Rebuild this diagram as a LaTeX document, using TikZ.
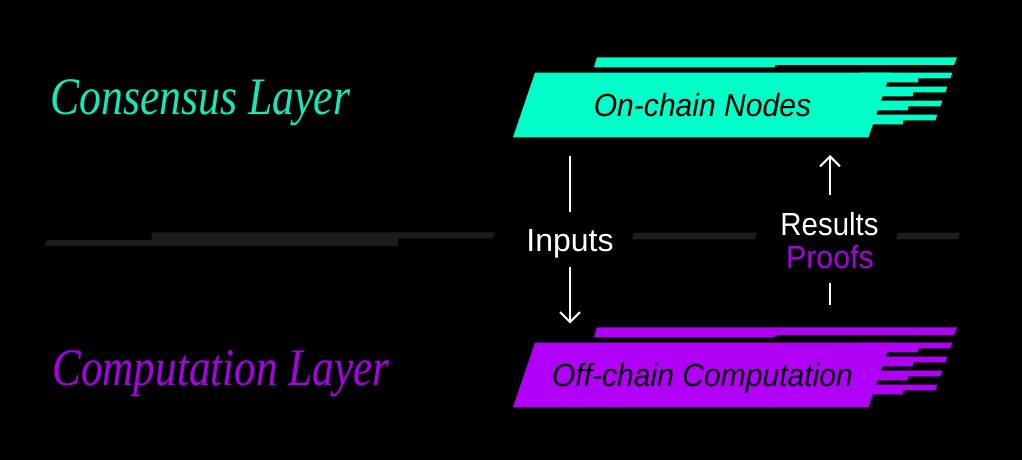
\documentclass[tikz,border=0pt]{standalone}
\usepackage{fontspec}
\usetikzlibrary{arrows.meta}
\newfontfamily\sansf{Liberation Sans}
\newfontfamily\seriff{Liberation Serif}
\definecolor{cgreen}{HTML}{00FFC8}
\definecolor{cpurple}{HTML}{B000F5}
\definecolor{cgreentext}{HTML}{14EAB8}
\definecolor{cpurpletext}{HTML}{A800E8}
\definecolor{cstripe}{HTML}{1C1C1C}
\tikzset{
  layerbars/.pic={
    \fill[#1] (597,57.3) -- (957,57.3) -- (954,65) -- (775,65) -- (775,67.3) -- (594,67.3) -- cycle;
    \fill[#1] (535,72.7) -- (890.5,72.7) -- (868.5,137.3) -- (513,137.3) -- cycle;
    \foreach \i in {0,1,2,3}{
      \pgfmathsetmacro\t{72.7+14*\i}
      \pgfmathsetmacro\bl{\t+9.6}
      \pgfmathsetmacro\br{\t+5.6}
      \pgfmathsetmacro\sx{918-5*\i}
      \pgfmathsetmacro\rt{952.3-5*\i}
      \pgfmathsetmacro\rb{\rt-2}
      \fill[#1] (860,\t) -- (\rt,\t) -- (\rb,\br) -- (\sx,\br) -- (\sx,\bl) -- (860,\bl) -- cycle;
    }
  },
  boxtext/.style={font=\sansf\itshape\fontsize{24}{28}\selectfont, text=black, anchor=base, inner sep=0pt},
  flowtext/.style={font=\sansf\fontsize{24}{28}\selectfont, anchor=base, inner sep=0pt},
  layertext/.style={font=\seriff\itshape\fontsize{39.5}{44}\selectfont, anchor=base west, inner sep=0pt},
  flowline/.style={draw=white, line width=1.5pt},
  flowarrow/.style={flowline, -{Straight Barb[length=7.5pt,width=15pt]}},
  stripe/.style={fill=cstripe}
}
\begin{document}
\begin{tikzpicture}[x=0.75pt,y=-0.75pt]
\fill[black] (0,0) rectangle (1022,460);
\useasboundingbox (0,0) rectangle (1022,460);
% middle divider
\fill[stripe] (46.7,240) -- (151.7,240) -- (151.7,232.3) -- (495,232.3) -- (493,238.3) -- (398,238.3) -- (398,246) -- (45,246) -- cycle;
\fill[stripe] (634,232.5) -- (757,232.5) -- (755,239.3) -- (632,239.3) -- cycle;
\fill[stripe] (898,232.5) -- (960,232.5) -- (958,239.3) -- (896,239.3) -- cycle;
% layer shapes
\pic {layerbars=cgreen};
\pic at (0,270) {layerbars=cpurple};
% texts
\node[boxtext] (onchain) at (702.5,116.5) {\scalebox{0.94}[1]{On-chain Nodes}};
\node[boxtext] (offchain) at (702.5,386.5) {\scalebox{0.94}[1]{Off-chain Computation}};
\node[layertext, text=cgreentext] (consensus) at (50,115) {\scalebox{0.83}[1]{Consensus Layer}};
\node[layertext, text=cpurpletext] (computation) at (52,385) {\scalebox{0.82}[1]{Computation Layer}};
\node[flowtext, text=white] (inputs) at (570,251.7) {Inputs};
\node[flowtext, text=white] (results) at (829.5,235) {\scalebox{0.92}[1]{Results}};
\node[flowtext, text=cpurpletext] (proofs) at (830,268.7) {\scalebox{0.95}[1]{Proofs}};
% connectors
\coordinate (inA) at (570,156);
\coordinate (inB) at (570,212.3);
\coordinate (inC) at (570,266.7);
\coordinate (inD) at (570,323.5);
\coordinate (resA) at (830,195);
\coordinate (resB) at (830,155);
\coordinate (prA) at (830,283.3);
\coordinate (prB) at (830,305);
\draw[flowline] (inA) -- (inB);
\draw[flowarrow] (inC) -- (inD);
\draw[flowarrow] (resA) -- (resB);
\draw[flowline] (prA) -- (prB);
\end{tikzpicture}
\end{document}
